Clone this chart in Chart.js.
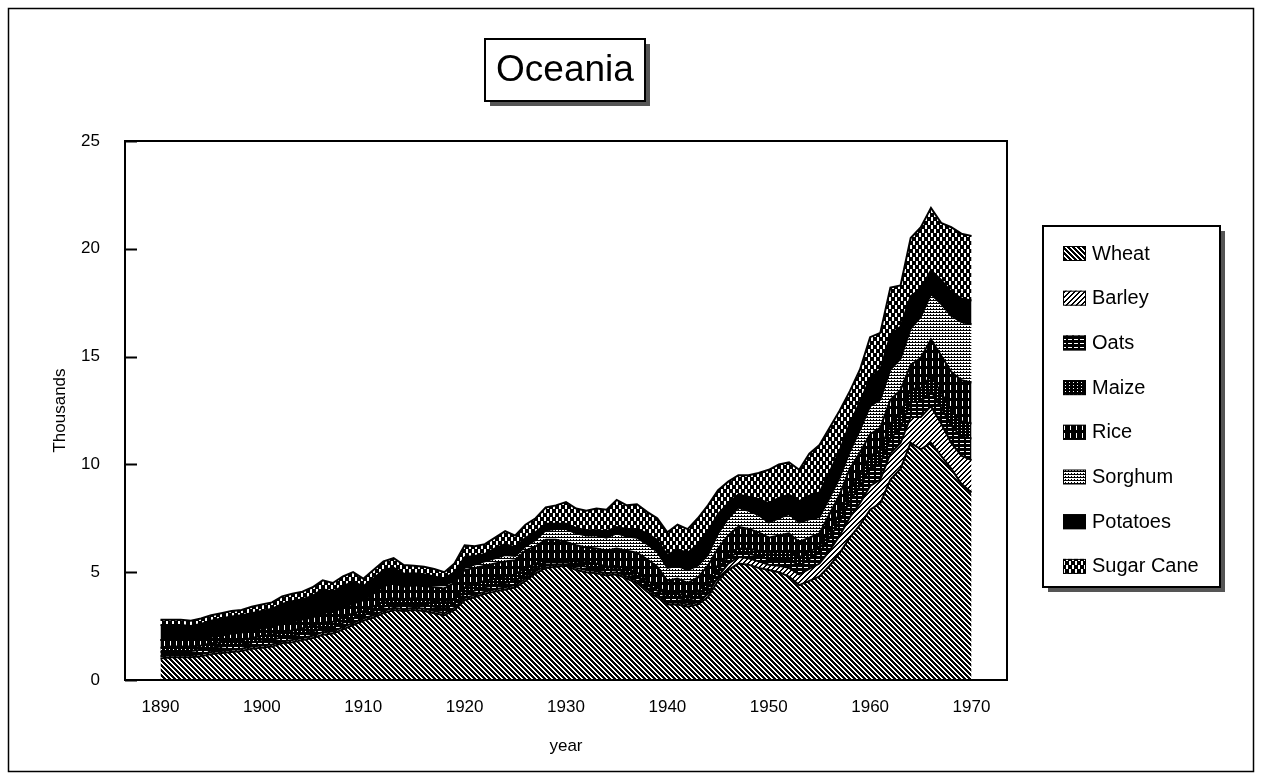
<!DOCTYPE html>
<html>
<head>
<meta charset="utf-8">
<script src="https://cdn.jsdelivr.net/npm/chart.js@4.4.1/dist/chart.umd.min.js"></script>
<style>
    html, body { margin: 0; padding: 0; background: #fff; }
</style>
</head>
<body>
<canvas id="chart" width="1262" height="779"></canvas>
<script>
const years = [
    1890, 1891, 1892, 1893, 1894, 1895, 1896, 1897, 1898, 1899,
    1900, 1901, 1902, 1903, 1904, 1905, 1906, 1907, 1908, 1909,
    1910, 1911, 1912, 1913, 1914, 1915, 1916, 1917, 1918, 1919,
    1920, 1921, 1922, 1923, 1924, 1925, 1926, 1927, 1928, 1929,
    1930, 1931, 1932, 1933, 1934, 1935, 1936, 1937, 1938, 1939,
    1940, 1941, 1942, 1943, 1944, 1945, 1946, 1947, 1948, 1949,
    1950, 1951, 1952, 1953, 1954, 1955, 1956, 1957, 1958, 1959,
    1960, 1961, 1962, 1963, 1964, 1965, 1966, 1967, 1968, 1969,
    1970
];

const seriesNames = ["Wheat", "Barley", "Oats", "Maize", "Rice", "Sorghum", "Potatoes", "Sugar Cane"];

// values in thousands, one per year
const wheat = [
    1.0, 1.05, 1.05, 1.05, 1.1, 1.2, 1.25, 1.3, 1.35, 1.45,
    1.5, 1.55, 1.7, 1.75, 1.85, 1.95, 2.1, 2.15, 2.35, 2.55,
    2.75, 2.9, 3.1, 3.25, 3.2, 3.25, 3.2, 3.1, 3.0, 3.25,
    3.7, 3.85, 4.0, 4.1, 4.2, 4.3, 4.6, 4.95, 5.2, 5.25,
    5.3, 5.1, 5.0, 4.95, 4.85, 4.9, 4.7, 4.5, 4.1, 3.85,
    3.5, 3.5, 3.4, 3.5, 3.85, 4.6, 5.1, 5.4, 5.35, 5.2,
    5.1, 5.0, 4.8, 4.4, 4.6, 4.8, 5.3, 5.9, 6.6, 7.2,
    7.9, 8.2, 9.3, 9.8, 11.0, 10.7, 11.0, 10.4, 9.8, 9.1,
    8.7
];
const barley = [
    0.1, 0.1, 0.1, 0.1, 0.1, 0.1, 0.1, 0.1, 0.1, 0.1,
    0.1, 0.1, 0.08, 0.1, 0.1, 0.1, 0.12, 0.1, 0.1, 0.1,
    0.1, 0.1, 0.1, 0.1, 0.08, 0.1, 0.1, 0.1, 0.1, 0.1,
    0.1, 0.1, 0.1, 0.1, 0.1, 0.1, 0.1, 0.1, 0.1, 0.1,
    0.05, 0.1, 0.1, 0.1, 0.1, 0.1, 0.1, 0.1, 0.1, 0.1,
    0.1, 0.1, 0.1, 0.1, 0.15, 0.2, 0.3, 0.3, 0.3, 0.3,
    0.25, 0.3, 0.4, 0.5, 0.55, 0.6, 0.7, 0.8, 0.95, 1.0,
    1.1, 1.1, 1.2, 1.2, 1.2, 1.5, 1.7, 1.5, 1.2, 1.3,
    1.5
];
const oats = [
    0.2, 0.2, 0.2, 0.2, 0.2, 0.2, 0.2, 0.2, 0.2, 0.2,
    0.2, 0.2, 0.2, 0.2, 0.2, 0.2, 0.2, 0.2, 0.2, 0.2,
    0.15, 0.2, 0.2, 0.2, 0.2, 0.2, 0.2, 0.2, 0.2, 0.2,
    0.2, 0.2, 0.2, 0.2, 0.2, 0.2, 0.2, 0.15, 0.15, 0.1,
    0.1, 0.15, 0.15, 0.15, 0.15, 0.15, 0.15, 0.2, 0.2, 0.2,
    0.2, 0.2, 0.2, 0.25, 0.3, 0.3, 0.3, 0.2, 0.2, 0.25,
    0.25, 0.3, 0.4, 0.4, 0.45, 0.5, 0.6, 0.65, 0.75, 0.8,
    0.8, 0.75, 0.7, 0.7, 0.7, 0.7, 0.7, 0.75, 0.8, 0.9,
    1.0
];
const maize = [
    0.2, 0.2, 0.2, 0.2, 0.2, 0.2, 0.2, 0.2, 0.2, 0.2,
    0.25, 0.25, 0.25, 0.25, 0.25, 0.25, 0.25, 0.25, 0.25, 0.25,
    0.2, 0.2, 0.25, 0.25, 0.25, 0.25, 0.25, 0.25, 0.25, 0.25,
    0.3, 0.3, 0.3, 0.3, 0.3, 0.3, 0.3, 0.2, 0.15, 0.15,
    0.1, 0.15, 0.2, 0.2, 0.15, 0.15, 0.2, 0.2, 0.2, 0.2,
    0.2, 0.2, 0.2, 0.25, 0.3, 0.25, 0.2, 0.2, 0.25, 0.25,
    0.3, 0.35, 0.4, 0.4, 0.35, 0.3, 0.35, 0.4, 0.5, 0.55,
    0.6, 0.6, 0.7, 0.65, 0.6, 0.65, 0.7, 0.7, 0.7, 0.7,
    0.7
];
const rice = [
    0.35, 0.3, 0.3, 0.3, 0.3, 0.3, 0.3, 0.35, 0.35, 0.35,
    0.35, 0.35, 0.4, 0.4, 0.4, 0.4, 0.45, 0.45, 0.45, 0.45,
    0.5, 0.6, 0.7, 0.7, 0.6, 0.6, 0.6, 0.65, 0.7, 0.7,
    0.8, 0.75, 0.7, 0.7, 0.7, 0.65, 0.8, 0.8, 0.9, 0.9,
    0.85, 0.75, 0.7, 0.7, 0.75, 0.8, 0.85, 0.9, 1.0, 0.9,
    0.6, 0.7, 0.6, 0.65, 0.7, 0.75, 0.8, 1.0, 0.9, 0.85,
    0.7, 0.75, 0.8, 0.7, 0.65, 0.6, 0.75, 0.85, 1.0, 1.0,
    1.0, 1.05, 1.1, 1.1, 1.1, 1.4, 1.7, 1.7, 1.8, 1.9,
    1.9
];
const sorghum = [
    0, 0, 0, 0, 0, 0, 0, 0, 0, 0,
    0, 0, 0, 0, 0, 0, 0, 0, 0, 0,
    0, 0, 0, 0.05, 0.05, 0.05, 0.1, 0.1, 0.15, 0.1,
    0.1, 0.15, 0.2, 0.25, 0.3, 0.2, 0.2, 0.3, 0.45, 0.5,
    0.6, 0.55, 0.55, 0.6, 0.6, 0.7, 0.65, 0.7, 0.7, 0.7,
    0.6, 0.6, 0.6, 0.55, 0.5, 0.7, 0.8, 0.9, 0.85, 0.8,
    0.7, 0.8, 0.9, 0.9, 0.85, 0.75, 0.75, 0.8, 0.8, 1.05,
    1.3, 1.3, 1.4, 1.45, 1.7, 1.9, 2.1, 2.4, 2.6, 2.7,
    2.7
];
const potatoes = [
    0.7, 0.7, 0.7, 0.65, 0.7, 0.75, 0.8, 0.8, 0.8, 0.8,
    0.8, 0.85, 0.9, 0.95, 0.95, 1.0, 1.1, 0.95, 1.0, 1.0,
    0.65, 0.7, 0.75, 0.65, 0.55, 0.5, 0.45, 0.4, 0.3, 0.4,
    0.5, 0.4, 0.35, 0.45, 0.5, 0.4, 0.4, 0.35, 0.3, 0.25,
    0.25, 0.25, 0.25, 0.25, 0.3, 0.3, 0.35, 0.4, 0.5, 0.55,
    0.6, 0.75, 0.8, 1.0, 1.1, 0.9, 0.7, 0.6, 0.65, 0.75,
    0.9, 0.95, 0.9, 1.0, 1.1, 1.15, 1.2, 1.25, 1.3, 1.3,
    1.3, 1.4, 1.6, 1.5, 1.5, 1.3, 1.1, 1.1, 1.1, 1.1,
    1.1
];
const sugarCane = [
    0.25, 0.25, 0.25, 0.25, 0.25, 0.25, 0.25, 0.25, 0.25, 0.3,
    0.3, 0.3, 0.35, 0.35, 0.35, 0.4, 0.4, 0.4, 0.45, 0.45,
    0.35, 0.4, 0.4, 0.45, 0.4, 0.35, 0.35, 0.35, 0.3, 0.4,
    0.55, 0.45, 0.45, 0.5, 0.6, 0.55, 0.6, 0.65, 0.75, 0.85,
    1.0, 0.9, 0.9, 1.0, 1.0, 1.25, 1.1, 1.15, 1.0, 1.0,
    1.05, 1.15, 1.1, 1.2, 1.2, 1.1, 1.0, 0.9, 1.0, 1.2,
    1.55, 1.55, 1.5, 1.45, 1.95, 2.2, 2.05, 1.85, 1.5, 1.5,
    1.9, 1.7, 2.2, 1.9, 2.7, 2.85, 2.9, 2.65, 3.0, 3.0,
    3.0
];

const yTicks = [0, 5, 10, 15, 20, 25];
const xTicks = [1890, 1900, 1910, 1920, 1930, 1940, 1950, 1960, 1970];

const canvas = document.getElementById("chart");
const ctx = canvas.getContext("2d");
const fontFamily = "'Liberation Sans', Arial, sans-serif";

// little black & white tiles, like the old printer fills
function makePattern(w, h, isBlack) {
    const tile = document.createElement("canvas");
    tile.width = w;
    tile.height = h;
    const g = tile.getContext("2d");
    g.fillStyle = "#fff";
    g.fillRect(0, 0, w, h);
    g.fillStyle = "#000";
    for (let y = 0; y < h; y++) {
        for (let x = 0; x < w; x++) {
            if (isBlack(x, y)) g.fillRect(x, y, 1, 1);
        }
    }
    return ctx.createPattern(tile, "repeat");
}

const fills = [
    makePattern(5, 5, (x, y) => (x - y + 5) % 5 < 3),            // wheat \\\
    makePattern(5, 5, (x, y) => (x + y) % 5 < 2),                // barley ///
    makePattern(6, 4, (x, y) => !(y === 3 && x < 4)),            // oats
    makePattern(4, 3, (x, y) => !(x === 1 && y === 1)),          // maize
    makePattern(6, 8, (x, y) => !(x === 2 && y >= 1 && y <= 5)), // rice
    makePattern(3, 3, (x, y) => y === 0 || (x === 0 && y === 2)), // sorghum
    "#000",                                                       // potatoes
    makePattern(6, 8, (x, y) => !(((x === 1 || x === 2) && y >= 1 && y <= 4) ||
                                   ((x === 4 || x === 5) && (y >= 5 || y === 0)))) // sugar cane
];

const seriesValues = [wheat, barley, oats, maize, rice, sorghum, potatoes, sugarCane];

const datasets = seriesNames.map((name, i) => ({
    label: name,
    data: years.map((yr, j) => ({ x: yr, y: seriesValues[i][j] })),
    backgroundColor: fills[i],
    borderColor: "#000",
    borderWidth: 2,
    pointRadius: 0,
    tension: 0,
    fill: i === 0 ? "origin" : "-1",
}));

const framePlugin = {
    id: "frame",
    beforeDraw(chart) {
        const c = chart.ctx;
        c.save();
        c.fillStyle = "#fff";
        c.fillRect(0, 0, chart.width, chart.height);
        c.restore();
    },
    afterDatasetsDraw(chart) {
        const c = chart.ctx;
        const a = chart.chartArea;
        const yScale = chart.scales.y;
        c.save();
        c.strokeStyle = "#000";
        c.lineWidth = 2;
        c.strokeRect(a.left, a.top, a.right - a.left, a.bottom - a.top);
        // tick marks point into the plot
        c.beginPath();
        yScale.ticks.forEach(t => {
            const py = Math.round(yScale.getPixelForValue(t.value)) + 0.5;
            c.moveTo(a.left, py);
            c.lineTo(a.left + 12, py);
        });
        c.stroke();
        c.restore();
    },
    afterDraw(chart) {
        const c = chart.ctx;
        c.save();

        // outer border
        c.strokeStyle = "#000";
        c.lineWidth = 1.5;
        c.strokeRect(8.5, 8.5, 1245, 763);

        // title box
        const tb = { x: 485, y: 39, w: 160, h: 62 };
        c.fillStyle = "#555";
        c.fillRect(tb.x + 5, tb.y + 5, tb.w, tb.h);
        c.fillStyle = "#fff";
        c.fillRect(tb.x, tb.y, tb.w, tb.h);
        c.lineWidth = 2;
        c.strokeRect(tb.x, tb.y, tb.w, tb.h);
        c.fillStyle = "#000";
        c.font = "37px " + fontFamily;
        c.textAlign = "center";
        c.textBaseline = "middle";
        c.fillText("Oceania", tb.x + tb.w / 2, tb.y + tb.h / 2 + 1);

        // legend box
        const lg = { x: 1043, y: 226, w: 177, h: 361 };
        c.fillStyle = "#555";
        c.fillRect(lg.x + 5, lg.y + 5, lg.w, lg.h);
        c.fillStyle = "#fff";
        c.fillRect(lg.x, lg.y, lg.w, lg.h);
        c.lineWidth = 2;
        c.strokeRect(lg.x, lg.y, lg.w, lg.h);
        c.textAlign = "left";
        c.font = "20px " + fontFamily;
        c.lineWidth = 1;
        chart.data.datasets.forEach((ds, i) => {
            const cy = lg.y + 27 + i * 44.7;
            c.fillStyle = ds.backgroundColor;
            c.fillRect(1063, cy - 7, 23, 15);
            c.strokeRect(1063.5, cy - 6.5, 22, 14);
            c.fillStyle = "#000";
            c.fillText(ds.label, 1092, cy + 1);
        });
        c.restore();
    }
};

new Chart(canvas, {
    type: "line",
    data: { datasets: datasets },
    options: {
        responsive: false,
        animation: false,
        devicePixelRatio: 1,
        layout: { padding: { left: 0, top: 141, right: 255, bottom: 0 } },
        plugins: {
            legend: { display: false },
            tooltip: { enabled: false },
        },
        scales: {
            x: {
                type: "linear",
                min: 1886.5,
                max: 1973.5,
                afterBuildTicks: (scale) => { scale.ticks = xTicks.map(v => ({ value: v })); },
                afterFit: (scale) => { scale.height = 99; },
                grid: { display: false, drawTicks: false },
                border: { display: false },
                ticks: {
                    color: "#000",
                    padding: 17,
                    maxRotation: 0,
                    font: { family: fontFamily, size: 17 },
                    callback: (v) => String(v),
                },
                title: {
                    display: true,
                    text: "year",
                    color: "#000",
                    padding: { top: 0, bottom: 22 },
                    font: { family: fontFamily, size: 17 },
                },
            },
            y: {
                stacked: true,
                min: 0,
                max: 25,
                afterBuildTicks: (scale) => { scale.ticks = yTicks.map(v => ({ value: v })); },
                afterFit: (scale) => { scale.width = 125; },
                grid: { display: false, drawTicks: false },
                border: { display: false },
                ticks: {
                    color: "#000",
                    padding: 25,
                    font: { family: fontFamily, size: 17 },
                },
                title: {
                    display: true,
                    text: "Thousands",
                    color: "#000",
                    padding: { top: 50, bottom: 0 },
                    font: { family: fontFamily, size: 17 },
                },
            },
        },
    },
    plugins: [framePlugin],
});
</script>
</body>
</html>
